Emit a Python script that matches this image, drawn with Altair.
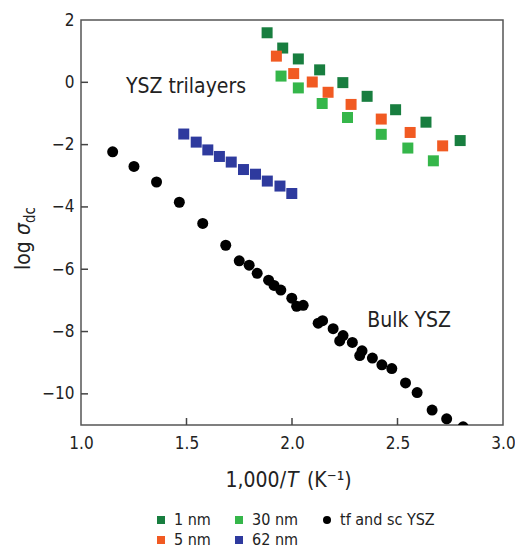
import altair as alt
import pandas as pd

FONT = "DejaVu Sans Condensed, Liberation Sans Narrow, sans-serif"
TXT = "#222222"
FRAME = "#555555"

# ---- data ----
series_names = ["1 nm", "5 nm", "30 nm", "62 nm", "tf and sc YSZ"]
series_colors = ["#187e3f", "#f15a22", "#35b64a", "#2e3a9e", "#000000"]
series_shapes = ["square", "square", "square", "square", "circle"]

nm1_x = [1.882, 1.956, 2.030, 2.131, 2.241, 2.356, 2.491, 2.635, 2.797]
nm1_y = [1.59, 1.10, 0.75, 0.40, -0.01, -0.45, -0.88, -1.28, -1.87]

nm5_x = [1.926, 2.008, 2.096, 2.171, 2.280, 2.423, 2.560, 2.714]
nm5_y = [0.84, 0.28, 0.01, -0.32, -0.71, -1.18, -1.61, -2.04]

nm30_x = [1.948, 2.030, 2.143, 2.263, 2.423, 2.549, 2.670]
nm30_y = [0.20, -0.18, -0.68, -1.13, -1.67, -2.11, -2.52]

nm62_x = [1.487, 1.546, 1.601, 1.656, 1.712, 1.770, 1.827, 1.883, 1.943, 1.999]
nm62_y = [-1.66, -1.92, -2.17, -2.38, -2.56, -2.80, -2.95, -3.17, -3.33, -3.57]

bulk_x = [1.150, 1.251, 1.358, 1.466, 1.577, 1.686, 1.750, 1.797, 1.835, 1.889,
          1.915, 1.947, 1.999, 2.022, 2.053, 2.124, 2.145, 2.195, 2.242, 2.226,
          2.286, 2.332, 2.321, 2.381, 2.426, 2.473, 2.538, 2.593, 2.664, 2.733,
          2.811]
bulk_y = [-2.23, -2.70, -3.20, -3.85, -4.53, -5.23, -5.73, -5.87, -6.13, -6.35,
          -6.52, -6.67, -6.93, -7.19, -7.16, -7.73, -7.65, -7.91, -8.13, -8.30,
          -8.35, -8.62, -8.77, -8.85, -9.07, -9.19, -9.65, -9.96, -10.52, -10.80,
          -11.06]

x_ticks = [1.0, 1.5, 2.0, 2.5, 3.0]
y_ticks = [2, 0, -2, -4, -6, -8, -10]
x_inner_ticks = [1.5, 2.0, 2.5]
y_inner_ticks = [0, -2, -4, -6, -8, -10]

ann_text = ["YSZ trilayers", "Bulk YSZ"]
ann_x = [1.213, 2.357]
ann_y = [-0.34, -7.85]

# ---- build table ----
rows = []
for name, xs, ys in [("1 nm", nm1_x, nm1_y), ("5 nm", nm5_x, nm5_y),
                     ("30 nm", nm30_x, nm30_y), ("62 nm", nm62_x, nm62_y),
                     ("tf and sc YSZ", bulk_x, bulk_y)]:
    for a, b in zip(xs, ys):
        rows.append({"x": a, "y": b, "series": name})
df = pd.DataFrame(rows)

W, H = 422, 405
xscale = alt.Scale(domain=[1, 3], nice=False, zero=False)
yscale = alt.Scale(domain=[-11, 2], nice=False, zero=False)
xaxis = alt.Axis(values=x_ticks, format=".1f", tickSize=0, domain=False, grid=False,
                 labelFont=FONT, labelFontSize=17, labelColor=TXT, labelPadding=10,
                 labelFlush=False, labelOverlap=False, title=None)
yaxis = alt.Axis(values=y_ticks, tickSize=0, domain=False, grid=False,
                 labelFont=FONT, labelFontSize=17, labelColor=TXT, labelPadding=7,
                 labelFlush=False, labelOverlap=False, title=None)

leg = alt.Legend(title=None, orient="none", legendX=72, legendY=492, columns=3,
                 columnPadding=20, rowPadding=4, padding=0, symbolSize=64,
                 symbolStrokeWidth=0, labelFont=FONT, labelFontSize=16,
                 labelColor=TXT, labelOffset=5, gridAlign="each")

points = alt.Chart(df).mark_point(filled=True, opacity=1, size=121, clip=True).encode(
    x=alt.X("x:Q", scale=xscale, axis=xaxis),
    y=alt.Y("y:Q", scale=yscale, axis=yaxis),
    color=alt.Color("series:N", scale=alt.Scale(domain=series_names, range=series_colors), legend=leg),
    shape=alt.Shape("series:N", scale=alt.Scale(domain=series_names, range=series_shapes), legend=leg),
)

xt = alt.Chart(pd.DataFrame({"tx": x_inner_ticks})).mark_rule(
    color="#444444", strokeWidth=1.5).encode(
    x=alt.X("tx:Q", scale=xscale, axis=xaxis), y=alt.value(H - 7), y2=alt.value(H))
yt = alt.Chart(pd.DataFrame({"ty": y_inner_ticks})).mark_rule(
    color="#444444", strokeWidth=1.5).encode(
    y=alt.Y("ty:Q", scale=yscale, axis=yaxis), x=alt.value(0), x2=alt.value(7))

ann = alt.Chart(pd.DataFrame({"t": ann_text, "ax": ann_x, "ay": ann_y})).mark_text(
    align="left", baseline="alphabetic", font=FONT, fontSize=21, color=TXT).encode(
    x=alt.X("ax:Q", scale=xscale, axis=xaxis), y=alt.Y("ay:Q", scale=yscale, axis=yaxis), text="t:N")

# axis titles composed of pieces (italic symbols, subscript)
def piece(txt, x, y, size, align="left", style="normal", angle=0):
    kw = dict(align=align, baseline="alphabetic", font=FONT, fontSize=size, color=TXT, fontStyle=style)
    if angle:
        kw["angle"] = angle
    return alt.Chart(pd.DataFrame({"t": [txt]})).mark_text(**kw).encode(
        x=alt.value(x), y=alt.value(y), text="t:N")

xt1 = piece("1,000/", 205, 467, 21, align="right")
xt2 = piece("T", 206, 467, 21, style="italic")
xt3 = piece("(K\u207b\u00b9)", 226, 467, 21)

yt1 = piece("log", -51, 250, 21, angle=270)
yt2 = piece("\u03c3", -51, 215, 21, style="italic", angle=270)
yt3 = piece("dc", -46, 203, 15, angle=270)

chart = alt.layer(points, xt, yt, ann, xt1, xt2, xt3, yt1, yt2, yt3).properties(
    width=W, height=H,
    background="white",
    padding={"left": 81, "top": 20, "right": 12, "bottom": 125},
    autosize=alt.AutoSizeParams(type="none"),
).configure_view(stroke=FRAME, strokeWidth=1.5)

chart.save("out.html", embed_options={"renderer": "svg", "actions": False})
